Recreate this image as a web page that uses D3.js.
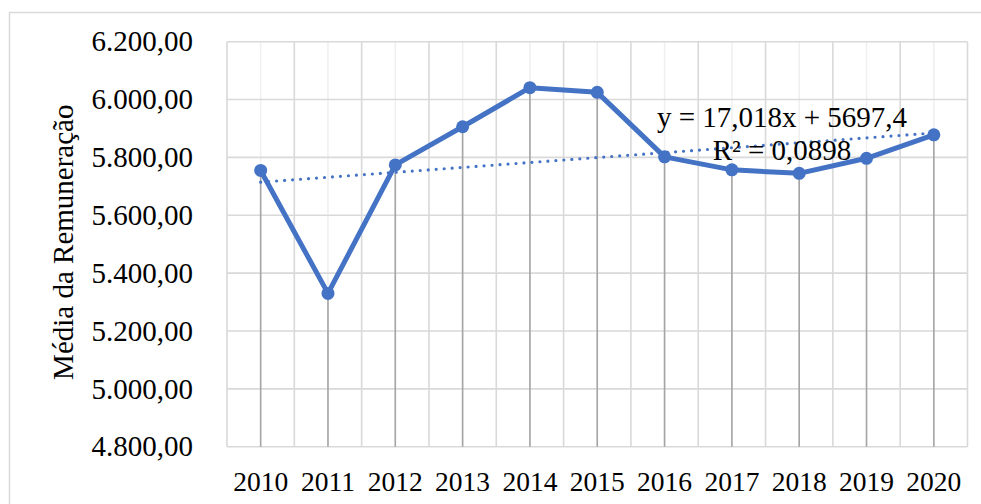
<html>

<head>
  <script src="https://d3js.org/d3.v7.min.js"></script>
  <style>
    body { margin: 0; background: white; }
  </style>
</head>

<body>
  <svg id="chart" width="981" height="504" style="background: white;"></svg>

  <script>
    // data
    const years = ["2010", "2011", "2012", "2013", "2014", "2015", "2016", "2017", "2018", "2019", "2020"];
    const media = [5755, 5330, 5774, 5906, 6041, 6025, 5802, 5757, 5745, 5797, 5878];
    const yTicks = [4800, 5000, 5200, 5400, 5600, 5800, 6000, 6200];
    const trendSlope = 17.018;
    const trendIntercept = 5697.4;
    const trendLabel = ["y = 17,018x + 5697,4", "R² = 0,0898"];
    const yTitle = "Média da Remuneração";

    const serif = "'Liberation Serif', 'Times New Roman', 'DejaVu Serif', serif";

    let svg = d3.select("svg#chart");
    const margin = { top: 41.7, right: 13.5, bottom: 57.3, left: 227 };
    const width = +svg.attr("width");
    const height = +svg.attr("height");
    const x0 = margin.left, x1 = width - margin.right;
    const y0 = height - margin.bottom, y1 = margin.top;

    // outer chart border (runs past the right/bottom edge)
    svg.append("rect")
      .attr("x", 9.5).attr("y", 12.5)
      .attr("width", 990).attr("height", 520)
      .attr("fill", "none")
      .style("stroke", "#d9d9d9")
      .style("stroke-width", 1.5);

    const xBand = d3.scaleBand().domain(years).range([x0, x1]);
    const xCenter = d => xBand(d) + xBand.bandwidth() / 2;
    const yScale = d3.scaleLinear().domain([4800, 6200]).range([y0, y1]);

    // light gridlines at category centres
    years.forEach(yr => {
      svg.append("line")
        .attr("x1", xCenter(yr)).attr("x2", xCenter(yr))
        .attr("y1", y1).attr("y2", y0)
        .style("stroke", "#efefef")
        .style("stroke-width", 1.5);
    });

    // gridlines at category boundaries
    for (let i = 0; i <= years.length; i++) {
      let gx = x0 + i * xBand.bandwidth();
      svg.append("line")
        .attr("x1", gx).attr("x2", gx)
        .attr("y1", y1).attr("y2", y0)
        .style("stroke", "#d9d9d9")
        .style("stroke-width", 1.6);
    }

    // horizontal gridlines
    yTicks.forEach(t => {
      svg.append("line")
        .attr("x1", x0).attr("x2", x1)
        .attr("y1", yScale(t)).attr("y2", yScale(t))
        .style("stroke", "#d9d9d9")
        .style("stroke-width", 1.6);
    });

    // y axis labels
    const ptbr = d3.formatLocale({ decimal: ",", thousands: ".", grouping: [3], currency: ["", ""] });
    let leftAxis = d3.axisLeft(yScale)
      .tickValues(yTicks)
      .tickSize(0)
      .tickPadding(0)
      .tickFormat(ptbr.format(",.2f"));
    let yAxisG = svg.append("g")
      .attr("transform", `translate(${x0 - 34},0)`)
      .call(leftAxis)
      .attr("font-family", serif)
      .attr("font-size", 29);
    yAxisG.select(".domain").remove();
    yAxisG.selectAll("text").attr("fill", "#000");

    // x axis labels
    let bottomAxis = d3.axisBottom(xBand).tickSize(0).tickPadding(0);
    let xAxisG = svg.append("g")
      .attr("transform", `translate(0,${y0 + 25})`)
      .call(bottomAxis)
      .attr("font-family", serif)
      .attr("font-size", 27.5);
    xAxisG.select(".domain").remove();
    xAxisG.selectAll("text").attr("fill", "#000");

    // y axis title
    svg.append("text")
      .attr("transform", `translate(73,${(y0 + y1) / 2 - 2}) rotate(-90)`)
      .attr("text-anchor", "middle")
      .attr("font-family", serif)
      .attr("font-size", 29)
      .attr("fill", "#000")
      .text(yTitle);

    // drop lines
    media.forEach((v, i) => {
      svg.append("line")
        .attr("x1", xCenter(years[i])).attr("x2", xCenter(years[i]))
        .attr("y1", yScale(v)).attr("y2", y0)
        .style("stroke", "#a5a5a5")
        .style("stroke-width", 1.6);
    });

    // linear trendline (dotted)
    const first = years[0], last = years[years.length - 1];
    svg.append("line")
      .attr("x1", xCenter(first))
      .attr("y1", yScale(trendIntercept + trendSlope * 1))
      .attr("x2", xCenter(last))
      .attr("y2", yScale(trendIntercept + trendSlope * years.length))
      .style("stroke", "#4472c4")
      .style("stroke-width", 3.2)
      .style("stroke-linecap", "round")
      .style("stroke-dasharray", "0 8");

    // main series
    let line = d3.line()
      .x((d, i) => xCenter(years[i]))
      .y(d => yScale(d));
    svg.append("path")
      .datum(media)
      .attr("d", line)
      .attr("fill", "none")
      .style("stroke", "#4472c4")
      .style("stroke-width", 5)
      .style("stroke-linejoin", "round");

    media.forEach((v, i) => {
      svg.append("circle")
        .attr("cx", xCenter(years[i]))
        .attr("cy", yScale(v))
        .attr("r", 6.5)
        .attr("fill", "#4472c4");
    });

    // trendline equation
    trendLabel.forEach((s, i) => {
      svg.append("text")
        .attr("x", 782)
        .attr("y", 126.7 + i * 33.3)
        .attr("text-anchor", "middle")
        .attr("font-family", serif)
        .attr("font-size", 29)
        .attr("fill", "#000")
        .text(s);
    });
  </script>

</body>

</html>
